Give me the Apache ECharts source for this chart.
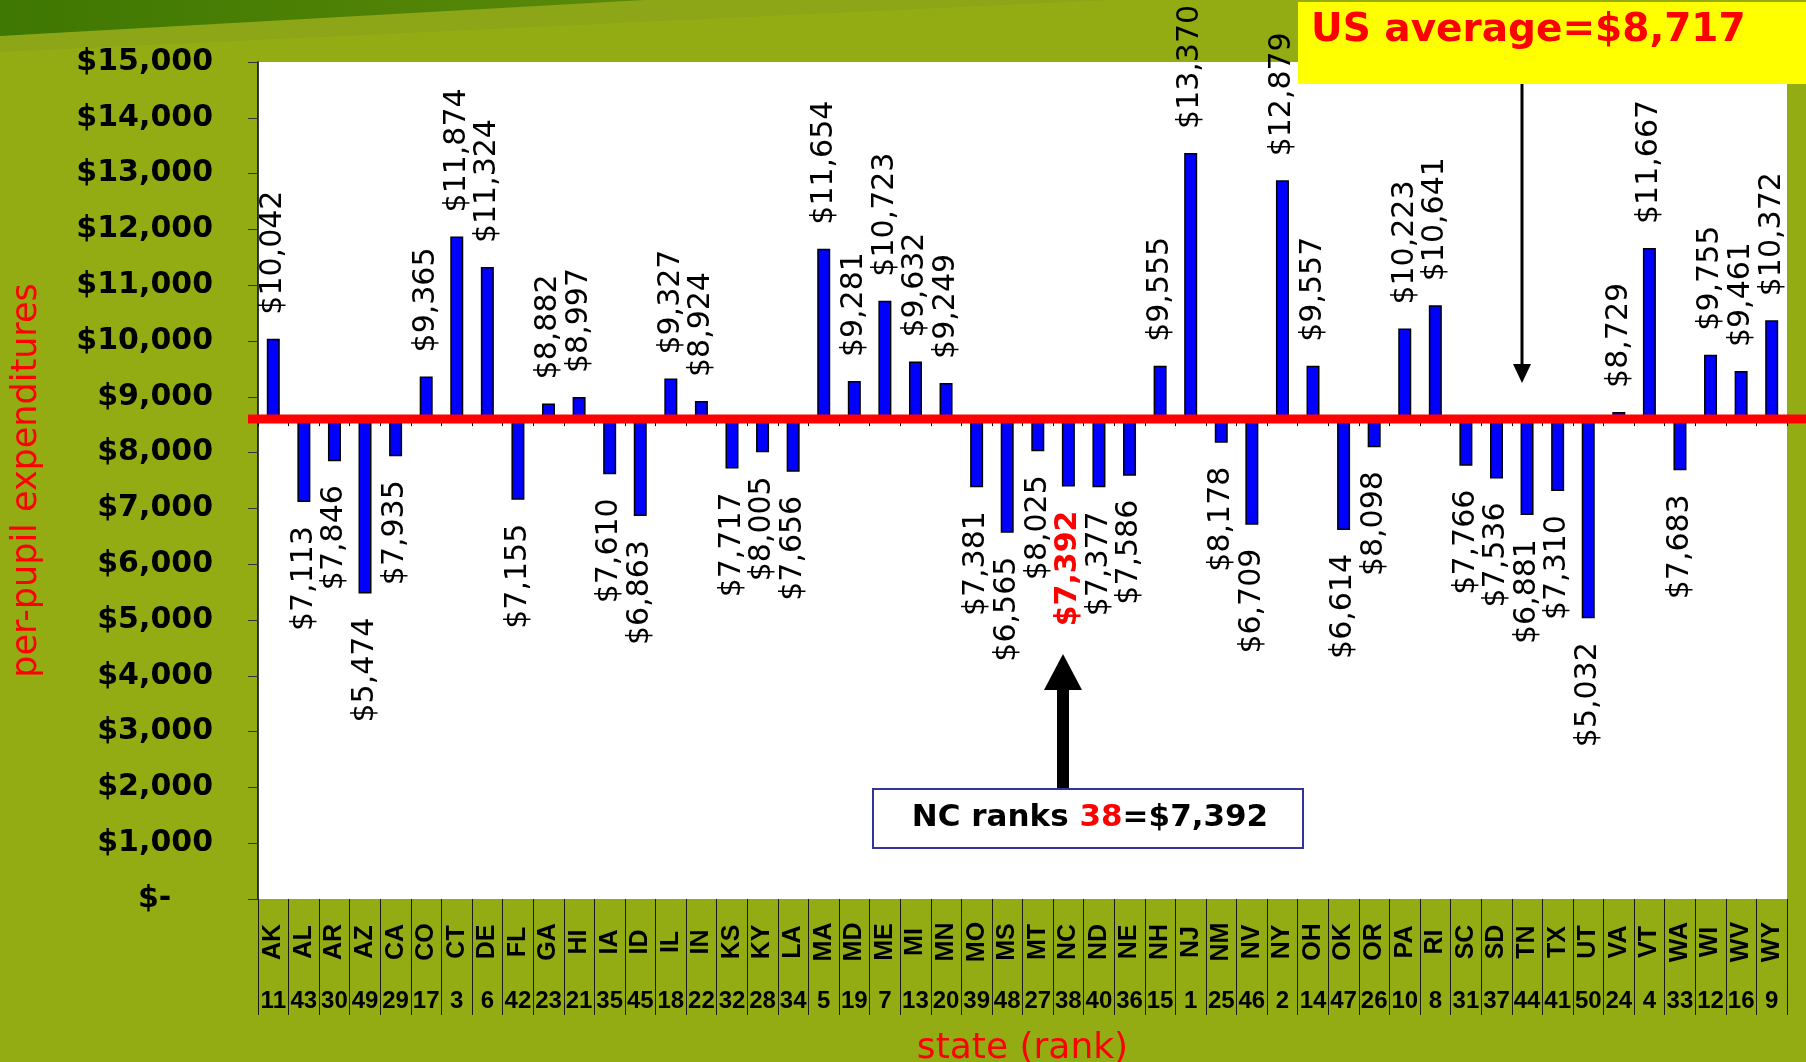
<!DOCTYPE html>
<html>
<head>
<meta charset="utf-8">
<script src="https://cdn.jsdelivr.net/npm/echarts/dist/echarts.min.js"></script>
<style>
html,body{margin:0;padding:0;background:#94AC13;overflow:hidden;}
#c{width:1806px;height:1062px;}
</style>
</head>
<body>
<div id="c"></div>
<script>
// ---- data ----
const states = ['AK','AL','AR','AZ','CA','CO','CT','DE','FL','GA','HI','IA','ID','IL','IN','KS','KY','LA','MA','MD','ME',
  'MI','MN','MO','MS','MT','NC','ND','NE','NH','NJ','NM','NV','NY','OH','OK','OR','PA','RI','SC','SD','TN','TX','UT','VA','VT','WA','WI','WV','WY'];
const values = [10042,7113,7846,5474,7935,9365,11874,11324,7155,8882,8997,7610,6863,9327,8924,7717,8005,7656,11654,9281,10723,
  9632,9249,7381,6565,8025,7392,7377,7586,9555,13370,8178,6709,12879,9557,6614,8098,10223,10641,7766,7536,6881,7310,5032,8729,11667,7683,9755,9461,10372];
const ranks = [11,43,30,49,29,17,3,6,42,23,21,35,45,18,22,32,28,34,5,19,7,
  13,20,39,48,27,38,40,36,15,1,25,46,2,14,47,26,10,8,31,37,44,41,50,24,4,33,12,16,9];
const baseline = 8600;      // value where the category axis crosses (red line)
const usAverage = 8717;
const highlightState = 'NC';
const yMin = 0, yMax = 15000, yStep = 1000;

const fmt = v => '$' + v.toLocaleString('en-US');
const ncIdx = states.indexOf(highlightState);

const chart = echarts.init(document.getElementById('c'), null, {renderer: 'canvas'});

const deltaData = values.map((v, i) => {
  const up = v >= baseline;
  const hl = i === ncIdx;
  return {
    value: v - baseline,
    label: {
      position: up ? 'top' : 'bottom',
      align: up ? 'left' : 'right',
      color: hl ? '#FF0000' : '#000000',
      fontWeight: hl ? 'bold' : 'normal'
    }
  };
});

const option = {
  animation: false,
  backgroundColor: '#94AC13',
  grid: {
    left: 258, right: 19, top: 62, bottom: 163,
    show: true, backgroundColor: '#FFFFFF', borderWidth: 0,
    containLabel: false, outerBoundsMode: 'none'
  },
  xAxis: [
    {
      type: 'category', data: states, position: 'bottom',
      axisLine: {show: false},
      axisTick: {show: true, length: 116, interval: 0, lineStyle: {color: '#1a1a1a', width: 1}},
      axisLabel: {
        interval: 0, rotate: 90, align: 'center', verticalAlign: 'middle', margin: 43,
        fontFamily: 'Liberation Sans', fontWeight: 'bold', fontSize: 25, color: '#000'
      },
      name: 'state (rank)', nameLocation: 'middle', nameGap: 132,
      nameTextStyle: {color: '#FF0000', fontFamily: 'DejaVu Sans', fontSize: 36, verticalAlign: 'top'}
    },
    {
      type: 'category', data: ranks.map(String), position: 'bottom',
      axisLine: {show: false}, axisTick: {show: false},
      axisLabel: {
        interval: 0, margin: 102, verticalAlign: 'middle',
        fontFamily: 'Liberation Sans', fontWeight: 'bold', fontSize: 24, color: '#000'
      }
    },
    {
      type: 'category', data: states, position: 'bottom', offset: 0,
      axisLine: {show: false},
      axisTick: {show: true, length: 7, interval: 0, lineStyle: {color: '#000', width: 1}},
      axisLabel: {show: false}
    }
  ],
  yAxis: {
    type: 'value', min: yMin, max: yMax, interval: yStep,
    splitLine: {show: false},
    axisLine: {show: true, lineStyle: {color: '#000', width: 1.5}},
    axisTick: {show: true, length: 10, lineStyle: {color: '#333', width: 1}},
    axisLabel: {
      margin: 45, fontFamily: 'DejaVu Sans', fontWeight: 'bold', fontSize: 30, color: '#000',
      formatter: v => v === 0 ? '$-    ' : fmt(v)
    },
    name: 'per-pupil expenditures', nameLocation: 'middle', nameGap: 214, nameRotate: 90,
    nameTextStyle: {color: '#FF0000', fontFamily: 'DejaVu Sans', fontSize: 35}
  },
  series: [
    {
      type: 'bar', stack: 'exp', stackStrategy: 'all', barWidth: 13, silent: true,
      data: values.map(() => baseline),
      itemStyle: {color: 'rgba(0,0,0,0)', borderWidth: 0},
      emphasis: {disabled: true}, z: 1
    },
    {
      type: 'bar', stack: 'exp', stackStrategy: 'all', barWidth: 13,
      data: deltaData,
      itemStyle: {color: '#0000FF', borderColor: '#000', borderWidth: 1.5},
      label: {
        show: true, rotate: 90, verticalAlign: 'middle', distance: 24,
        fontFamily: 'DejaVu Sans', fontSize: 30,
        formatter: p => fmt(values[p.dataIndex])
      },
      emphasis: {disabled: true}, z: 2
    }
  ]
};

chart.setOption(option);

const yBase = chart.convertToPixel({yAxisIndex: 0}, baseline);
const gridBottomY = 1062 - 163;

chart.setOption({
  xAxis: [{}, {}, {offset: yBase - gridBottomY}],
  graphic: [
    {type: 'polygon', id: 'band2', silent: true, z: 0,
      shape: {points: [[0, 34], [640, 0], [1110, 0], [0, 52]]},
      style: {fill: '#8CA617'}},
    {type: 'polygon', id: 'band1', silent: true, z: 0,
      shape: {points: [[0, 0], [645, 0], [0, 36]]},
      style: {fill: new echarts.graphic.LinearGradient(0, 0, 1, 0, [
        {offset: 0, color: '#3E7702'}, {offset: 1, color: '#5B8A08'}])}},
    {type: 'rect', id: 'redline', silent: true, z: 50,
      shape: {x: 248, y: yBase - 4.5, width: 1806 - 248, height: 9},
      style: {fill: '#FF0000'}},
    {type: 'rect', id: 'ybox', silent: true, z: 60,
      shape: {x: 1298, y: 2, width: 510, height: 82},
      style: {fill: '#FFFF00'}},
    {type: 'text', id: 'ytext', silent: true, z: 61, x: 1311, y: 31,
      style: {text: 'US average=' + fmt(usAverage), fill: '#FF0000',
        fontFamily: 'DejaVu Sans', fontWeight: 'bold', fontSize: 39,
        align: 'left', verticalAlign: 'middle'}},
    {type: 'line', id: 'usArrowLine', silent: true, z: 60,
      shape: {x1: 1522, y1: 84, x2: 1522, y2: 368},
      style: {stroke: '#000', lineWidth: 3}},
    {type: 'polygon', id: 'usArrowHead', silent: true, z: 60,
      shape: {points: [[1513, 364], [1531, 364], [1522, 383]]},
      style: {fill: '#000'}},
    {type: 'rect', id: 'ncShaft', silent: true, z: 60,
      shape: {x: 1057, y: 688, width: 12, height: 102},
      style: {fill: '#000'}},
    {type: 'polygon', id: 'ncHead', silent: true, z: 60,
      shape: {points: [[1044, 690], [1082, 690], [1063, 654]]},
      style: {fill: '#000'}},
    {type: 'rect', id: 'ncBox', silent: true, z: 60,
      shape: {x: 873, y: 789, width: 430, height: 59},
      style: {fill: '#FFFFFF', stroke: '#333399', lineWidth: 2}},
    {type: 'text', id: 'ncText', silent: true, z: 61, x: 1090, y: 818,
      style: {
        text: '{b|' + highlightState + ' ranks }{r|' + ranks[ncIdx] + '}{b|=' + fmt(values[ncIdx]) + '}',
        align: 'center', verticalAlign: 'middle',
        rich: {
          b: {fill: '#000', color: '#000', fontFamily: 'DejaVu Sans', fontWeight: 'bold', fontSize: 31},
          r: {fill: '#FF0000', color: '#FF0000', fontFamily: 'DejaVu Sans', fontWeight: 'bold', fontSize: 31}
        }
      }}
  ]
});
</script>
</body>
</html>
